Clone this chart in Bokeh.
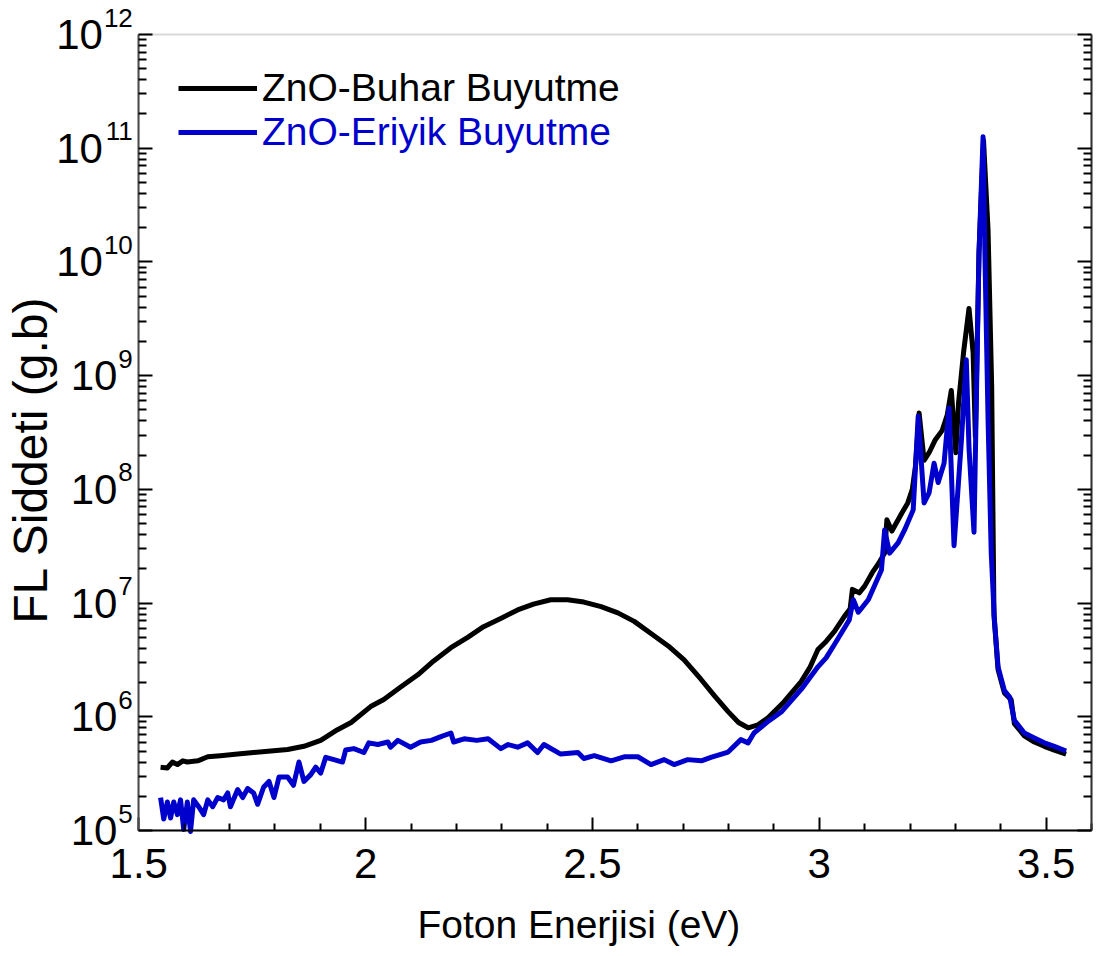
import math

from bokeh.plotting import figure
from bokeh.models import (Range1d, LinearAxis, LogAxis, FixedTicker, Label,
                          Legend, LegendItem, BoxAnnotation)
from bokeh.embed import file_html
from bokeh.resources import INLINE

# ---------------------------------------------------------------------------
# Photoluminescence spectra of ZnO (photon energy in eV, intensity in a.u.)
# ---------------------------------------------------------------------------
buhar_ev = [1.548, 1.563, 1.574, 1.585, 1.597, 1.607, 1.630, 1.652, 1.680,
            1.718, 1.753, 1.791, 1.828, 1.864, 1.901, 1.938, 1.968, 2.011,
            2.040, 2.075, 2.115, 2.150, 2.188, 2.225, 2.260, 2.300, 2.335,
            2.370, 2.408, 2.445, 2.481, 2.519, 2.556, 2.592, 2.629, 2.667,
            2.702, 2.739, 2.770, 2.799, 2.822, 2.843, 2.865, 2.887, 2.922,
            2.960, 2.980, 2.997, 3.015, 3.033, 3.055, 3.068, 3.073, 3.088,
            3.100, 3.117, 3.131, 3.144, 3.149, 3.160, 3.182, 3.195, 3.205,
            3.212, 3.220, 3.231, 3.242, 3.255, 3.271, 3.282, 3.291, 3.301,
            3.307, 3.318, 3.330, 3.339, 3.344, 3.352, 3.362, 3.372, 3.380,
            3.385, 3.394, 3.408, 3.423, 3.430, 3.452, 3.474, 3.496, 3.518,
            3.544]
buhar_fl = [3.6e5, 3.55e5, 4.0e5, 3.8e5, 4.1e5, 4.0e5, 4.1e5, 4.45e5, 4.55e5,
            4.7e5, 4.85e5, 5.0e5, 5.15e5, 5.5e5, 6.2e5, 7.7e5, 8.9e5, 1.23e6,
            1.42e6, 1.8e6, 2.34e6, 3.1e6, 4.05e6, 5.0e6, 6.2e6, 7.4e6, 8.7e6,
            9.8e6, 1.07e7, 1.07e7, 1.02e7, 9.3e6, 8.2e6, 6.9e6, 5.4e6, 4.2e6,
            3.16e6, 2.14e6, 1.51e6, 1.11e6, 8.9e5, 8.0e5, 8.5e5, 9.8e5, 1.35e6,
            2.04e6, 2.75e6, 3.9e6, 4.6e6, 5.6e6, 7.6e6, 8.9e6, 1.32e7, 1.23e7,
            1.41e7, 1.86e7, 2.24e7, 2.75e7, 5.4e7, 4.3e7, 6.2e7, 7.6e7, 1.0e8,
            1.6e8, 4.7e8, 1.8e8, 2.1e8, 2.7e8, 3.3e8, 4.5e8, 7.4e8, 2.1e8,
            5.8e8, 1.6e9, 3.9e9, 1.6e9, 2.9e8, 1.2e10, 1.17e11, 1.9e10, 7.9e8,
            7.9e6, 2.6e6, 1.62e6, 1.41e6, 8.7e5, 6.8e5, 6.0e5, 5.5e5, 5.1e5,
            4.7e5]

eriyik_ev = [1.548, 1.555, 1.563, 1.570, 1.577, 1.585, 1.592, 1.599, 1.607,
             1.614, 1.621, 1.632, 1.643, 1.652, 1.663, 1.674, 1.687, 1.696,
             1.702, 1.718, 1.729, 1.740, 1.753, 1.762, 1.775, 1.787, 1.798,
             1.809, 1.828, 1.841, 1.853, 1.864, 1.879, 1.890, 1.901, 1.912,
             1.930, 1.949, 1.956, 1.974, 1.996, 2.007, 2.027, 2.049, 2.055,
             2.071, 2.099, 2.121, 2.145, 2.166, 2.188, 2.194, 2.217, 2.245,
             2.270, 2.298, 2.314, 2.335, 2.357, 2.379, 2.393, 2.430, 2.468,
             2.481, 2.504, 2.541, 2.570, 2.600, 2.629, 2.658, 2.680, 2.710,
             2.740, 2.761, 2.799, 2.827, 2.843, 2.856, 2.887, 2.916, 2.960,
             2.997, 3.015, 3.033, 3.066, 3.075, 3.086, 3.108, 3.137, 3.144,
             3.155, 3.174, 3.188, 3.207, 3.218, 3.231, 3.242, 3.253, 3.262,
             3.275, 3.286, 3.297, 3.313, 3.324, 3.330, 3.341, 3.352, 3.361,
             3.365, 3.372, 3.379, 3.386, 3.394, 3.408, 3.420, 3.430, 3.452,
             3.474, 3.496, 3.518, 3.544]
eriyik_fl = [1.95e5, 1.26e5, 1.78e5, 1.29e5, 1.78e5, 1.38e5, 1.86e5, 1.02e5,
             1.78e5, 9.8e4, 1.86e5, 1.62e5, 1.38e5, 1.86e5, 1.62e5, 1.95e5,
             1.86e5, 2.14e5, 1.62e5, 2.29e5, 1.95e5, 2.34e5, 2.14e5, 1.70e5,
             2.4e5, 2.7e5, 1.95e5, 2.95e5, 2.95e5, 2.5e5, 4.0e5, 2.7e5, 3.1e5,
             3.6e5, 3.2e5, 4.4e5, 4.2e5, 4.0e5, 5.1e5, 5.25e5, 4.85e5, 5.9e5,
             5.7e5, 6.0e5, 5.4e5, 6.2e5, 5.4e5, 6.0e5, 6.2e5, 6.7e5, 7.2e5,
             6.0e5, 6.4e5, 6.2e5, 6.4e5, 5.25e5, 5.7e5, 5.4e5, 5.9e5, 4.85e5,
             5.7e5, 4.7e5, 4.85e5, 4.3e5, 4.55e5, 4.1e5, 4.45e5, 4.45e5, 3.8e5,
             4.2e5, 3.8e5, 4.2e5, 4.1e5, 4.4e5, 4.9e5, 6.3e5, 5.9e5, 7.2e5,
             9.1e5, 1.1e6, 1.74e6, 2.75e6, 3.3e6, 4.3e6, 7.1e6, 1.07e7, 8.3e6,
             1.07e7, 1.95e7, 4.4e7, 2.75e7, 3.4e7, 4.4e7, 6.6e7, 4.4e8, 7.6e7,
             9.3e7, 1.7e8, 1.15e8, 1.7e8, 5.2e8, 3.2e7, 2.6e8, 1.38e9, 2.3e8,
             4.2e7, 1.2e10, 1.26e11, 1.2e10, 4.1e8, 2.75e7, 7.1e6, 2.75e6,
             1.7e6, 1.48e6, 9.3e5, 7.2e5, 6.5e5, 5.9e5, 5.5e5, 5.0e5]

series_names = ["ZnO-Buhar Buyutme", "ZnO-Eriyik Buyutme"]
series_colors = ["#000000", "#0000CD"]

x_major = [1.5, 2, 2.5, 3, 3.5]
x_labels = ["1.5", "2", "2.5", "3", "3.5"]
y_exponents = [5, 6, 7, 8, 9, 10, 11, 12]

x_title = "Foton Enerjisi (eV)"
y_title = "FL Siddeti (g.b)"

FONT = "Liberation Sans"

# ---------------------------------------------------------------------------
# Page geometry: the drawing area spans the whole canvas so that tick labels
# and titles (drawn as annotations) are never clipped. The axes are pinned
# to the edges of the 1.5-3.6 eV / 1e5-1e12 box.
W, H = 1096, 956
BOX_L, BOX_R, BOX_T, BOX_B = 138.3, 1091.0, 34.0, 830.0
X_LO, X_HI = 1.5, 3.6
D_LO, D_HI = 5, 12

px_per_ev = (BOX_R - BOX_L) / (X_HI - X_LO)
px_per_dec = (BOX_B - BOX_T) / (D_HI - D_LO)
x_start = X_LO - BOX_L / px_per_ev
x_end = X_HI + (W - BOX_R) / px_per_ev
y_start = 10.0 ** (D_LO - (H - BOX_B) / px_per_dec)
y_end = 10.0 ** (D_HI + BOX_T / px_per_dec)

p = figure(width=W, height=H,
           x_range=Range1d(x_start, x_end), y_range=Range1d(y_start, y_end),
           y_axis_type="log", x_axis_location=None, y_axis_location=None,
           output_backend="svg", toolbar_location=None,
           min_border=0, min_border_left=0, min_border_right=0,
           min_border_top=0, min_border_bottom=0)
p.grid.visible = False
p.outline_line_color = None

y_lo, y_hi = 10.0 ** D_LO, 10.0 ** D_HI

# grey frame of the plotting box (top edge stays visible)
p.add_layout(BoxAnnotation(left=X_LO, right=X_HI, bottom=y_lo, top=y_hi,
                           fill_alpha=0, line_color="#808080", line_width=2,
                           level="underlay"))

x_minor = [round(1.5 + 0.1 * i, 2) for i in range(22)]
x_minor = [v for v in x_minor if v not in x_major]
y_major = [10.0 ** k for k in y_exponents]
y_minor = [m * 10.0 ** k for k in y_exponents[:-1] for m in range(2, 10)]
blank = {v: "" for v in y_major}

xa = LinearAxis(fixed_location=y_lo, bounds=(X_LO, X_HI),
                ticker=FixedTicker(ticks=x_major, minor_ticks=x_minor),
                major_label_overrides={v: s for v, s in zip(x_major, x_labels)},
                major_label_text_font=FONT, major_label_text_font_size="42px",
                major_label_text_color="black", major_label_standoff=18,
                major_tick_in=13, major_tick_out=0,
                minor_tick_in=7, minor_tick_out=0,
                axis_line_color="black", axis_line_width=2,
                major_tick_line_width=2, minor_tick_line_width=2)
p.add_layout(xa, "below")

ya = LogAxis(fixed_location=X_LO, bounds=(y_lo, y_hi),
             ticker=FixedTicker(ticks=y_major, minor_ticks=y_minor),
             major_label_overrides=blank, major_label_text_color=None,
             major_label_text_font_size="10px", major_label_standoff=0,
             major_tick_in=14, major_tick_out=0,
             minor_tick_in=8, minor_tick_out=0,
             axis_line_color="#4d4d4d", axis_line_width=2,
             major_tick_line_width=2, minor_tick_line_width=2)
p.add_layout(ya, "left")

ra = LogAxis(fixed_location=X_HI, bounds=(y_lo, y_hi),
             ticker=FixedTicker(ticks=y_major, minor_ticks=y_minor),
             major_label_overrides=blank, major_label_text_color=None,
             major_label_text_font_size="10px", major_label_standoff=0,
             major_tick_in=14, major_tick_out=0,
             minor_tick_in=8, minor_tick_out=0,
             axis_line_color="#333333", axis_line_width=2,
             major_tick_line_width=2, minor_tick_line_width=2)
p.add_layout(ra, "right")

# curves
r_buhar = p.line(buhar_ev, buhar_fl, line_color=series_colors[0],
                 line_width=5, line_join="round")
r_eriyik = p.line(eriyik_ev, eriyik_fl, line_color=series_colors[1],
                  line_width=5, line_join="round")

# power-of-ten tick labels: "10" with a raised exponent
EXP_SIZE = 26
for k in y_exponents:
    exp_txt = str(k)
    exp_w = 0.556 * EXP_SIZE * len(exp_txt)
    p.add_layout(Label(x=X_LO, y=10.0 ** k, text=exp_txt, x_offset=-6,
                       y_offset=17, text_align="right",
                       text_baseline="middle", text_font=FONT,
                       text_font_size=f"{EXP_SIZE}px", text_color="black"))
    p.add_layout(Label(x=X_LO, y=10.0 ** k, text="10",
                       x_offset=-6 - exp_w - 1, y_offset=0,
                       text_align="right", text_baseline="middle",
                       text_font=FONT, text_font_size="42px",
                       text_color="black"))

# axis titles
p.add_layout(Label(x=2.47, y=y_lo, text=x_title, y_offset=-94,
                   text_align="center", text_baseline="middle",
                   text_font=FONT, text_font_size="39px", text_color="black"))
p.add_layout(Label(x=X_LO, y=10 ** 8.26, text=y_title, x_offset=-108,
                   angle=math.pi / 2, text_align="center",
                   text_baseline="middle", text_font=FONT,
                   text_font_size="48px", text_color="black"))

# legend: one entry per box so each label takes its curve's colour
for name, color, rend, top_px in zip(series_names, series_colors,
                                     [r_buhar, r_eriyik], [66, 110]):
    leg = Legend(items=[LegendItem(label=name, renderers=[rend])],
                 location=(178, H - top_px - 44), orientation="vertical",
                 label_text_color=color, label_text_font=FONT,
                 label_text_font_size="39px", label_standoff=5,
                 glyph_width=79, glyph_height=44, label_height=44,
                 padding=0, margin=0, spacing=0,
                 border_line_alpha=0, background_fill_alpha=0)
    p.add_layout(leg)

open("out.html", "w").write(file_html(p, INLINE))
